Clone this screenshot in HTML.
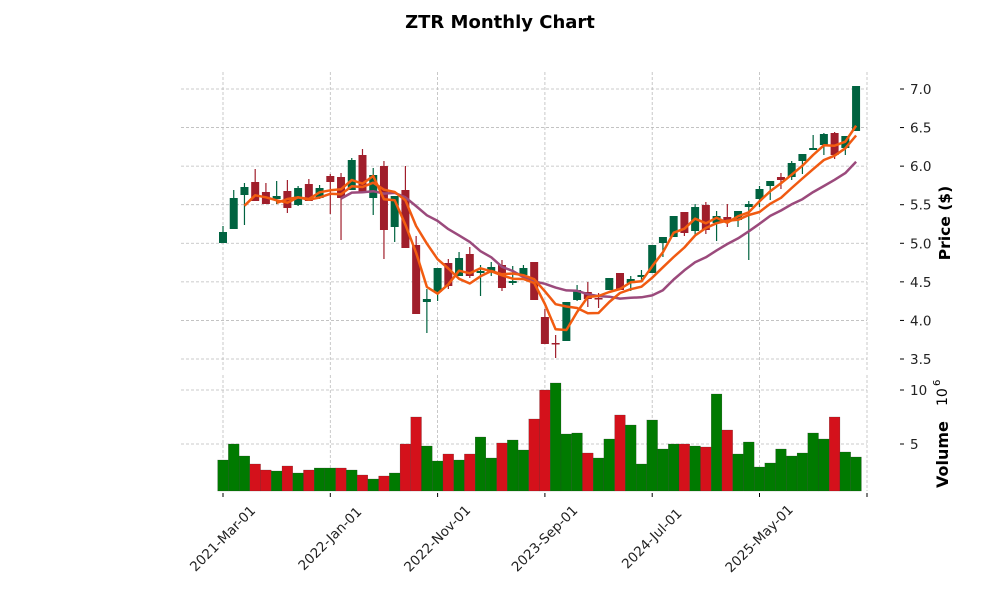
<!DOCTYPE html>
<html><head><meta charset="utf-8"><style>
html,body{margin:0;padding:0;background:#fff;}
svg{display:block;font-family:"DejaVu Sans","Liberation Sans",sans-serif;}
</style></head><body>
<svg id="s" width="1000" height="600" viewBox="0 0 1000 600" xmlns="http://www.w3.org/2000/svg">
<text x="500" y="28" text-anchor="middle" font-size="18" font-weight="bold">ZTR Monthly Chart</text>
<g id="grid" stroke="#bbb" stroke-width="0.8" stroke-dasharray="3,2"></g>
<g id="vol"></g>
<g id="candles"></g>
<g id="mas" fill="none" stroke-width="2.5" stroke-linejoin="round"></g>
<g id="axes" font-size="13.5" fill="#222"></g>
<text transform="translate(950,223) rotate(-90)" text-anchor="middle" font-size="15.5" font-weight="bold">Price ($)</text>
<text transform="translate(948,488) rotate(-90)" text-anchor="start" font-size="16" font-weight="bold">Volume</text>
<text transform="translate(947,406) rotate(-90)" text-anchor="start" font-size="14">10</text>
<text transform="translate(940,386) rotate(-90)" text-anchor="start" font-size="10">6</text>
</svg>
<script>
var NS="http://www.w3.org/2000/svg";
function el(p,t,a,txt){var e=document.createElementNS(NS,t);for(var k in a)e.setAttribute(k,a[k]);if(txt!==undefined)e.textContent=txt;document.getElementById(p).appendChild(e);return e;}
var X=function(i){return 223+i*10.73;};
var C=[[232,243,226,243,'g'],[198,229,190,229,'g'],[187,195,183,225,'g'],[182,201,169,201,'r'],[192,204,183,204,'r'],[196,199,181,204,'g'],[191,208,180,213,'r'],[188,205,186,206,'g'],[184,201,179,201,'r'],[188,198,185,199,'g'],
[176,182,174,214,'r'],[177,198,173,240,'r'],[160,190,158,190,'g'],[155,193,149,193,'r'],[175,198,168,215,'g'],[166,230,161,259,'r'],[196,227,196,242,'g'],[190,248,166,248,'r'],[245,314,236,314,'r'],[299,302,289,333,'g'],
[268,292,268,301,'g'],[263,286,259,289,'r'],[258,276,252,276,'g'],[254,276,247,278,'r'],[271,273,265,296,'g'],[267,271,262,276,'g'],[265,288,260,291,'r'],[281,283,266,285,'g'],[268,275,265,276,'g'],[262,300,262,300,'r'],
[317,344,309,344,'r'],[343,344,335,358,'r'],[302,341,302,341,'g'],[290,300,285,301,'g'],[292,299,282,307,'r'],[298,299,293,308,'r'],[278,290,278,290,'g'],[273,290,273,290,'r'],[279,283,276,291,'g'],[275,277,270,282,'g'],
[245,273,245,273,'g'],[237,243,237,257,'g'],[216,237,216,237,'g'],[212,233,212,236,'r'],[207,231,204,235,'g'],[205,230,202,234,'r'],[216,223,211,241,'g'],[217,222,204,227,'r'],[211,220,211,227,'g'],[204,207,201,260,'g'],
[189,199,186,207,'g'],[181,186,181,200,'g'],[177,180,173,189,'r'],[163,177,161,180,'g'],[154,161,154,174,'g'],[148,150,135,150,'g'],[134,145,133,155,'g'],[133,155,132,159,'r'],[136,148,136,155,'g'],[86,131,86,131,'g']];
var V=[460,444,456,464,470,471,466,473,470,468,468,468,470,475,479,476,473,444,417,446,461,454,460,454,437,458,443,440,450,419,390,383,434,433,453,458,439,415,425,464,420,449,444,444,446,447,394,430,454,442,467,463,449,456,453,433,439,417,452,457];
var VC="gggrrgrgrggrgrgrgrrggrgrggrggrrgggrggrgggggrgrgrgggggggggrgg";
var xt=[0,10,20,30,40,50];
xt.forEach(function(i){el('grid','line',{x1:X(i),x2:X(i),y1:72,y2:370});el('grid','line',{x1:X(i),x2:X(i),y1:375,y2:491});});
el('grid','line',{x1:867,x2:867,y1:72,y2:370});el('grid','line',{x1:867,x2:867,y1:375,y2:491});
[7,6.5,6,5.5,5,4.5,4,3.5].forEach(function(p){var y=89+(7-p)*77.14;el('grid','line',{x1:181,x2:867,y1:y,y2:y});
 el('axes','line',{x1:900,x2:904,y1:y,y2:y,stroke:'#000'});el('axes','text',{x:910,y:y+5,'text-anchor':'start'},p.toFixed(1));});
[[10,390],[5,444]].forEach(function(a){el('grid','line',{x1:181,x2:867,y1:a[1],y2:a[1]});el('axes','line',{x1:900,x2:904,y1:a[1],y2:a[1],stroke:'#000'});el('axes','text',{x:910,y:a[1]+5},a[0]);});
V.forEach(function(t,i){el('vol','rect',{x:X(i)-5.37,y:t,width:10.73,height:491-t,fill:VC[i]=='g'?'#007a00':'#d4111b',stroke:'#333','stroke-width':0.2});});
C.forEach(function(c,i){var col=c[4]=='g'?'#006340':'#a01e2b';var x=X(i);
 el('candles','line',{x1:x,x2:x,y1:c[2],y2:c[3],stroke:col,'stroke-width':1.2});
 el('candles','rect',{x:x-4,y:c[0],width:8,height:Math.max(1.5,c[1]-c[0]),fill:col});});
var cl=C.map(function(c){return c[4]=='g'?c[0]:c[1];});
function ma(n,col){var pts=[];for(var i=n-1;i<cl.length;i++){var s=0;for(var j=0;j<n;j++)s+=cl[i-j];pts.push(X(i).toFixed(1)+','+(s/n).toFixed(1));}
 el('mas','polyline',{points:pts.join(' '),stroke:col});}
ma(12,'#9b4a7c');ma(6,'#f05a12');ma(3,'#f25c0f');
var lab=['2021-Mar-01','2022-Jan-01','2022-Nov-01','2023-Sep-01','2024-Jul-01','2025-May-01'];
xt.forEach(function(i,k){var x=X(i);el('axes','line',{x1:x,x2:x,y1:493,y2:497,stroke:'#000'});
 el('axes','text',{transform:'translate('+x+',539) rotate(-45)','text-anchor':'middle','dominant-baseline':'central'},lab[k]);});
el('axes','line',{x1:867,x2:867,y1:493,y2:497,stroke:'#000'});
</script>
</body></html>
